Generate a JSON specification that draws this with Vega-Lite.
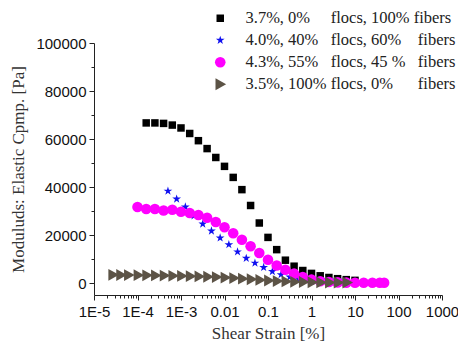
{
  "$schema": "https://vega.github.io/schema/vega-lite/v6.json",
  "width": 348,
  "height": 252,
  "autosize": "none",
  "padding": {"left": 94, "top": 43, "right": 16, "bottom": 50},
  "background": "white",
  "config": {
    "view": {"stroke": null},
    "axis": {
      "domainColor": "#222222",
      "tickColor": "#222222",
      "labelColor": "#111111",
      "titleColor": "#333333",
      "labelFont": "Liberation Sans",
      "labelFontSize": 15,
      "titleFont": "Liberation Serif",
      "titleFontSize": 17,
      "titleFontWeight": "normal",
      "grid": false
    }
  },
  "data": {
    "values": [
      {"series": "A", "x": 0.0001585, "y": 66700},
      {"series": "A", "x": 0.0002512, "y": 66700},
      {"series": "A", "x": 0.0003981, "y": 66500},
      {"series": "A", "x": 0.000631, "y": 65800},
      {"series": "A", "x": 0.001, "y": 64600},
      {"series": "A", "x": 0.001585, "y": 62300},
      {"series": "A", "x": 0.002512, "y": 59300},
      {"series": "A", "x": 0.003981, "y": 56000},
      {"series": "A", "x": 0.00631, "y": 52300},
      {"series": "A", "x": 0.01, "y": 48600},
      {"series": "A", "x": 0.01585, "y": 44000},
      {"series": "A", "x": 0.02512, "y": 38900},
      {"series": "A", "x": 0.03981, "y": 32300},
      {"series": "A", "x": 0.0631, "y": 25000},
      {"series": "A", "x": 0.1, "y": 19000},
      {"series": "A", "x": 0.1585, "y": 13900},
      {"series": "A", "x": 0.2512, "y": 9500},
      {"series": "A", "x": 0.3981, "y": 7000},
      {"series": "A", "x": 0.631, "y": 5200},
      {"series": "A", "x": 1, "y": 4000},
      {"series": "A", "x": 1.585, "y": 3000},
      {"series": "A", "x": 2.512, "y": 2300},
      {"series": "A", "x": 3.981, "y": 1800},
      {"series": "A", "x": 6.31, "y": 1400},
      {"series": "A", "x": 10, "y": 1100},
      {"series": "B", "x": 0.0005012, "y": 38300},
      {"series": "B", "x": 0.0007943, "y": 35000},
      {"series": "B", "x": 0.001259, "y": 31700},
      {"series": "B", "x": 0.001995, "y": 28000},
      {"series": "B", "x": 0.003162, "y": 24600},
      {"series": "B", "x": 0.005012, "y": 21700},
      {"series": "B", "x": 0.007943, "y": 18800},
      {"series": "B", "x": 0.01259, "y": 16000},
      {"series": "B", "x": 0.01995, "y": 13000},
      {"series": "B", "x": 0.03162, "y": 10300},
      {"series": "B", "x": 0.05012, "y": 8300},
      {"series": "B", "x": 0.07943, "y": 6500},
      {"series": "B", "x": 0.1259, "y": 4800},
      {"series": "B", "x": 0.1995, "y": 3500},
      {"series": "B", "x": 0.3162, "y": 2500},
      {"series": "B", "x": 0.5012, "y": 1700},
      {"series": "B", "x": 0.7943, "y": 1100},
      {"series": "B", "x": 1.259, "y": 700},
      {"series": "B", "x": 1.995, "y": 450},
      {"series": "B", "x": 3.162, "y": 300},
      {"series": "B", "x": 5.012, "y": 200},
      {"series": "C", "x": 0.0001, "y": 31700},
      {"series": "C", "x": 0.0001585, "y": 30800},
      {"series": "C", "x": 0.0002512, "y": 30800},
      {"series": "C", "x": 0.0003981, "y": 30200},
      {"series": "C", "x": 0.000631, "y": 30500},
      {"series": "C", "x": 0.001, "y": 29700},
      {"series": "C", "x": 0.001585, "y": 29200},
      {"series": "C", "x": 0.002512, "y": 28300},
      {"series": "C", "x": 0.003981, "y": 27200},
      {"series": "C", "x": 0.00631, "y": 25400},
      {"series": "C", "x": 0.01, "y": 23200},
      {"series": "C", "x": 0.01585, "y": 20700},
      {"series": "C", "x": 0.02512, "y": 18000},
      {"series": "C", "x": 0.03981, "y": 15300},
      {"series": "C", "x": 0.0631, "y": 12500},
      {"series": "C", "x": 0.1, "y": 9700},
      {"series": "C", "x": 0.1585, "y": 7300},
      {"series": "C", "x": 0.2512, "y": 5500},
      {"series": "C", "x": 0.3981, "y": 3900},
      {"series": "C", "x": 0.631, "y": 2500},
      {"series": "C", "x": 1, "y": 1400},
      {"series": "C", "x": 1.585, "y": 700},
      {"series": "C", "x": 2.512, "y": 400},
      {"series": "C", "x": 3.981, "y": 250},
      {"series": "C", "x": 6.31, "y": 150},
      {"series": "C", "x": 10, "y": 100},
      {"series": "C", "x": 15.85, "y": 100},
      {"series": "C", "x": 25.12, "y": 100},
      {"series": "C", "x": 37.15, "y": 100},
      {"series": "C", "x": 46.77, "y": 100},
      {"series": "D", "x": 0.00002754, "y": 3400},
      {"series": "D", "x": 0.00004169, "y": 3350},
      {"series": "D", "x": 0.0000631, "y": 3300},
      {"series": "D", "x": 0.0001047, "y": 3250},
      {"series": "D", "x": 0.000166, "y": 3200},
      {"series": "D", "x": 0.000263, "y": 3150},
      {"series": "D", "x": 0.0004169, "y": 3100},
      {"series": "D", "x": 0.0006607, "y": 3000},
      {"series": "D", "x": 0.001047, "y": 2950},
      {"series": "D", "x": 0.00166, "y": 2850},
      {"series": "D", "x": 0.00263, "y": 2750},
      {"series": "D", "x": 0.004169, "y": 2600},
      {"series": "D", "x": 0.006607, "y": 2450},
      {"series": "D", "x": 0.01047, "y": 2250},
      {"series": "D", "x": 0.0166, "y": 2050},
      {"series": "D", "x": 0.0263, "y": 1800},
      {"series": "D", "x": 0.04169, "y": 1550},
      {"series": "D", "x": 0.06607, "y": 1300},
      {"series": "D", "x": 0.1047, "y": 1050},
      {"series": "D", "x": 0.166, "y": 800},
      {"series": "D", "x": 0.263, "y": 650},
      {"series": "D", "x": 0.4169, "y": 500},
      {"series": "D", "x": 0.6607, "y": 400},
      {"series": "D", "x": 1.047, "y": 320},
      {"series": "D", "x": 1.66, "y": 260},
      {"series": "D", "x": 2.63, "y": 220},
      {"series": "D", "x": 4.169, "y": 190},
      {"series": "D", "x": 6.607, "y": 160}
    ]
  },
  "layer": [
    {
      "mark": {"type": "point", "opacity": 0},
      "encoding": {
        "x": {
          "field": "x",
          "type": "quantitative",
          "scale": {"type": "log", "domain": [0.00001, 1000], "nice": false},
          "axis": {
            "orient": "bottom",
            "title": null,
            "labels": false,
            "domain": false,
            "tickSize": 3,
            "values": [0.00002,0.00003,0.00004,0.00005,0.00006,0.00007,0.00008,0.00009,
                       0.0002,0.0003,0.0004,0.0005,0.0006,0.0007,0.0008,0.0009,
                       0.002,0.003,0.004,0.005,0.006,0.007,0.008,0.009,
                       0.02,0.03,0.04,0.05,0.06,0.07,0.08,0.09,
                       0.2,0.3,0.4,0.5,0.6,0.7,0.8,0.9,
                       2,3,4,5,6,7,8,9,
                       20,30,40,50,60,70,80,90,
                       200,300,400,500,600,700,800,900]
          }
        },
        "y": {
          "field": "y",
          "type": "quantitative",
          "scale": {"domain": [-5000, 100000], "nice": false, "zero": false},
          "axis": {
            "orient": "left",
            "title": null,
            "labels": false,
            "domain": false,
            "tickSize": 3,
            "values": [10000, 30000, 50000, 70000, 90000]
          }
        }
      }
    },
    {
      "mark": {"type": "point", "filled": true, "opacity": 1, "strokeWidth": 0},
      "encoding": {
        "x": {
          "field": "x",
          "type": "quantitative",
          "scale": {"type": "log", "domain": [0.00001, 1000], "nice": false},
          "axis": {
            "orient": "bottom",
            "title": "Shear Strain [%]",
            "titlePadding": 6,
            "labelPadding": 4,
            "labelFlush": false,
            "labelOverlap": false,
            "tickSize": 5,
            "values": [0.00001, 0.0001, 0.001, 0.01, 0.1, 1, 10, 100, 1000],
            "labelExpr": "datum.value < 0.005 ? '1E' + toString(round(log(datum.value)/LN10)) : format(datum.value, '~g')"
          }
        },
        "y": {
          "field": "y",
          "type": "quantitative",
          "scale": {"domain": [-5000, 100000], "nice": false, "zero": false},
          "axis": {
            "orient": "left",
            "title": "Moduluds:  Elastic Cpmp. [Pa]",
            "titlePadding": 8,
            "labelPadding": 3,
            "labelFlush": false,
            "tickSize": 5,
            "values": [0, 20000, 40000, 60000, 80000, 100000],
            "format": "d"
          }
        },
        "color": {
          "field": "series",
          "type": "nominal",
          "scale": {"domain": ["A", "B", "C", "D"], "range": ["#000000", "#1010f0", "#ff00ff", "#5c5346"]},
          "legend": {
            "title": null,
            "orient": "none",
            "legendX": 118,
            "legendY": -33,
            "padding": 0,
            "symbolSize": 40,
            "symbolStrokeWidth": 0,
            "labelFont": "Liberation Serif",
            "labelFontSize": 16.5,
            "labelColor": "#222222",
            "labelLimit": 400,
            "labelOffset": 17,
            "rowPadding": 5,
            "labelExpr": "datum.label === 'A' ? '3.7%, 0%\u00a0\u00a0\u00a0\u00a0 flocs, 100% fibers' : datum.label === 'B' ? '4.0%, 40%\u00a0\u00a0 flocs, 60%\u00a0\u00a0\u00a0 fibers' : datum.label === 'C' ? '4.3%, 55%\u00a0\u00a0 flocs, 45 %\u00a0\u00a0 fibers' : '3.5%, 100% flocs, 0%\u00a0\u00a0\u00a0\u00a0\u00a0 fibers'"
          }
        },
        "shape": {
          "field": "series",
          "type": "nominal",
          "scale": {"domain": ["A", "B", "C", "D"], "range": ["square", "M0,-1L0.2245,-0.309L0.9511,-0.309L0.3633,0.118L0.5878,0.809L0,0.382L-0.5878,0.809L-0.3633,0.118L-0.9511,-0.309L-0.2245,-0.309Z", "circle", "M-0.8,-1L1,0L-0.8,1Z"]}
        },
        "size": {
          "field": "series",
          "type": "nominal",
          "scale": {"domain": ["A", "B", "C", "D"], "range": [56, 140, 64, 85]},
          "legend": null
        }
      }
    }
  ],
  "resolve": {"axis": {"x": "independent", "y": "independent"}}
}
